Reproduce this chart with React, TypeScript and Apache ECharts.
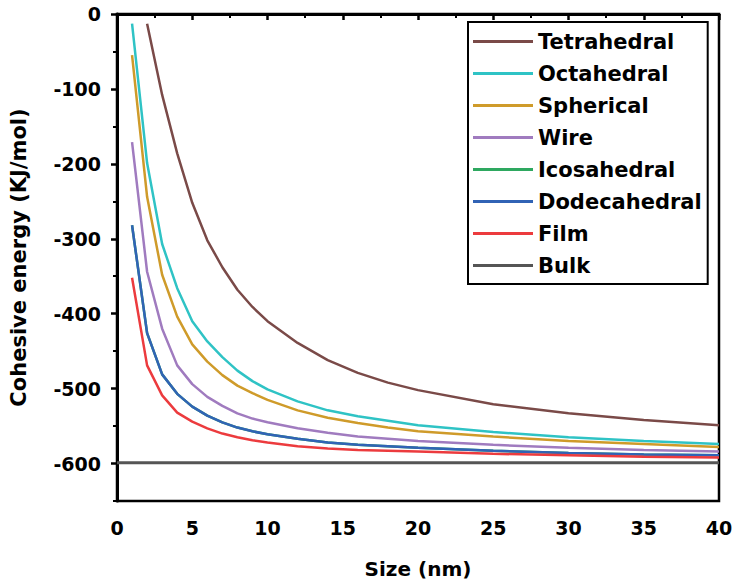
import React, { useEffect, useRef } from "react";
import * as echarts from "echarts";

const sizes = [1, 2, 3, 4, 5, 6, 7, 8, 9, 10, 12, 14, 16, 18, 20, 25, 30, 35, 40];
const tetrahedral = [null, -13, -108, -186, -252, -302, -338, -368, -391, -410, -439, -462, -479, -492, -502, -521, -533, -542, -549];
const octahedral = [-13, -199, -307, -366, -410, -437, -458, -476, -490, -501, -517, -529, -537, -543, -549, -558, -565, -570, -574];
const spherical = [-55, -244, -348, -404, -441, -464, -482, -496, -506, -515, -529, -539, -546, -552, -557, -564, -570, -574, -578];
const wire = [-171, -344, -420, -469, -494, -511, -523, -533, -540, -545, -553, -559, -564, -567, -570, -575, -579, -582, -584];
const icosahedral = [-282, -426, -481, -507, -524, -536, -545, -552, -557, -561, -567, -572, -575, -577, -579, -583, -586, -588, -589];
const dodecahedral = [-282, -426, -481, -507, -524, -536, -545, -552, -557, -561, -567, -572, -575, -577, -579, -583, -586, -588, -589];
const film = [-352, -469, -509, -532, -544, -553, -560, -565, -569, -572, -577, -580, -582, -583, -584, -587, -589, -591, -592];
const bulkSizes = [0, 40];
const bulk = [-599, -599];

const xTicks = [0, 5, 10, 15, 20, 25, 30, 35, 40];
const yTicks = [-600, -500, -400, -300, -200, -100, 0];
const yMinorTicks = [-650, -550, -450, -350, -250, -150, -50];

const seriesNames = ["Tetrahedral", "Octahedral", "Spherical", "Wire", "Icosahedral", "Dodecahedral", "Film", "Bulk"];
const seriesColors = ["#7a4a48", "#2fc3c5", "#cf9b2a", "#a07bbf", "#2ea860", "#3163b5", "#ec3b3e", "#555555"];

const pairs = (xs: number[], ys: (number | null)[]) =>
  xs.map((x, i) => [x, ys[i]]).filter((p) => p[1] !== null);

const FONT = "'DejaVu Sans', 'Liberation Sans', Arial, sans-serif";

export default function App() {
  const ref = useRef<HTMLDivElement>(null);
  useEffect(() => {
    if (!ref.current) return;
    const chart = echarts.init(ref.current, undefined, { renderer: "svg" });
    const allData = [
      pairs(sizes, tetrahedral),
      pairs(sizes, octahedral),
      pairs(sizes, spherical),
      pairs(sizes, wire),
      pairs(sizes, icosahedral),
      pairs(sizes, dodecahedral),
      pairs(sizes, film),
      pairs(bulkSizes, bulk),
    ];
    chart.setOption({
      animation: false,
      backgroundColor: "#ffffff",
      textStyle: { fontFamily: FONT },
      grid: {
        left: 117,
        right: 18,
        top: 14,
        bottom: 84,
        show: true,
        borderColor: "#000",
        borderWidth: 2.5,
      },
      legend: {
        left: 468,
        top: 22,
        orient: "vertical",
        data: seriesNames,
        icon: "rect",
        itemWidth: 60,
        itemHeight: 3,
        itemGap: 11,
        padding: [9, 6, 8, 5],
        borderColor: "#000",
        borderWidth: 2,
        textStyle: { fontFamily: FONT, fontWeight: "bold", fontSize: 21, color: "#000", lineHeight: 20 },
      },
      xAxis: {
        type: "value",
        min: 0,
        max: 40,
        interval: 5,
        name: "Size (nm)",
        nameLocation: "middle",
        nameGap: 58,
        nameTextStyle: { fontFamily: FONT, fontWeight: "bold", fontSize: 20, color: "#000" },
        axisLine: { show: true, lineStyle: { color: "#000", width: 3 } },
        axisTick: { show: true, length: 6, lineStyle: { color: "#000", width: 2.5 } },
        minorTick: { show: true, splitNumber: 2, length: 4, lineStyle: { color: "#000", width: 2 } },
        axisLabel: {
          customValues: xTicks,
          margin: 17,
          fontFamily: FONT,
          fontWeight: "bold",
          fontSize: 19,
          color: "#000",
        },
        splitLine: { show: false },
      },
      yAxis: [
        {
          type: "value",
          min: -650,
          max: 0,
          name: "Cohesive energy (KJ/mol)",
          nameLocation: "middle",
          nameGap: 88,
          nameTextStyle: { fontFamily: FONT, fontWeight: "bold", fontSize: 21, color: "#000" },
          axisLine: { show: true, lineStyle: { color: "#000", width: 3 } },
          axisTick: { show: true, customValues: yTicks, length: 6, lineStyle: { color: "#000", width: 2.5 } },
          axisLabel: {
            customValues: yTicks,
            margin: 16,
            fontFamily: FONT,
            fontWeight: "bold",
            fontSize: 19,
            color: "#000",
          },
          splitLine: { show: false },
        },
        {
          type: "value",
          min: -650,
          max: 0,
          position: "left",
          axisLine: { show: false },
          axisTick: { show: true, customValues: yMinorTicks, length: 4, lineStyle: { color: "#000", width: 2 } },
          axisLabel: { show: false },
          splitLine: { show: false },
        },
      ],
      series: seriesNames.map((name, i) => ({
        name,
        type: "line",
        data: allData[i],
        showSymbol: false,
        symbol: "none",
        smooth: false,
        yAxisIndex: 0,
        color: seriesColors[i],
        lineStyle: { color: seriesColors[i], width: i === 7 ? 3 : 2.5 },
        z: 2,
      })),
    });
    return () => chart.dispose();
  }, []);
  return <div ref={ref} style={{ width: 737, height: 585, position: "absolute", left: 0, top: 0 }} />;
}
